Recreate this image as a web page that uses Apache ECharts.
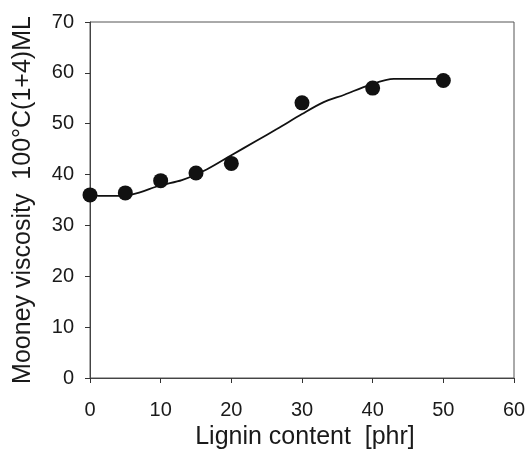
<!DOCTYPE html>
<html>
<head>
<meta charset="utf-8">
<script src="https://cdn.jsdelivr.net/npm/echarts@6/dist/echarts.min.js"></script>
<style>html,body{margin:0;padding:0;background:#fff;}#c{width:526px;height:449px;}</style>
</head>
<body>
<div id="c"></div>
<script>
var ligninPhr = [0, 5, 10, 15, 20, 30, 40, 50];
var mooneyViscosity = [36.0, 36.4, 38.8, 40.3, 42.2, 54.1, 57.0, 58.5];
var fitX = [0, 1.5, 3, 6, 10, 13, 16.5, 20, 23.5, 26.5, 30, 33, 36, 39.5, 43, 46, 49, 50];
var fitY = [36.1, 35.8, 35.8, 36.1, 37.9, 38.9, 41.0, 43.8, 46.6, 49.0, 51.9, 54.2, 55.7, 57.6, 58.8, 58.8, 58.8, 58.5];
var xTicks = [0, 10, 20, 30, 40, 50, 60];
var yTicks = [0, 10, 20, 30, 40, 50, 60, 70];

var pts = ligninPhr.map(function (x, i) { return [x, mooneyViscosity[i]]; });
var fit = fitX.map(function (x, i) { return [x, fitY[i]]; });
var font = '"Liberation Sans", Arial, sans-serif';
var chart = echarts.init(document.getElementById('c'), null, { renderer: 'canvas' });
chart.setOption({
  animation: false,
  backgroundColor: '#fff',
  grid: { left: 90, right: 12, top: 22, bottom: 71, containLabel: false, outerBoundsMode: 'none',
          show: true, borderColor: '#555', borderWidth: 1, backgroundColor: 'transparent' },
  xAxis: {
    type: 'value', min: xTicks[0], max: xTicks[xTicks.length - 1], interval: 10,
    name: 'Lignin content  [phr]', nameLocation: 'middle', nameGap: 46,
    nameTextStyle: { fontFamily: font, fontSize: 25, color: '#1a1a1a', padding: [0, 0, 0, 6] },
    axisLine: { show: true, lineStyle: { color: '#444', width: 1 } },
    axisTick: { show: true, inside: false, length: 5, lineStyle: { color: '#333' } },
    axisLabel: { margin: 22, fontFamily: font, fontSize: 20, color: '#1a1a1a' },
    splitLine: { show: false }
  },
  yAxis: {
    type: 'value', min: yTicks[0], max: yTicks[yTicks.length - 1], interval: 10,
    name: 'Mooney viscosity  100°C(1+4)ML', nameLocation: 'middle', nameGap: 54, nameRotate: 90,
    nameTextStyle: { fontFamily: font, fontSize: 25, color: '#1a1a1a' },
    axisLine: { show: true, lineStyle: { color: '#444', width: 1 } },
    axisTick: { show: true, inside: false, length: 5, lineStyle: { color: '#333' } },
    axisLabel: { margin: 16, fontFamily: font, fontSize: 20, color: '#1a1a1a' },
    splitLine: { show: false }
  },
  series: [
    {
      type: 'line', data: fit, smooth: 0.3, showSymbol: false, symbol: 'none',
      lineStyle: { color: '#111', width: 1.8 }, z: 2
    },
    {
      type: 'scatter', data: pts, symbol: 'circle', symbolSize: 15,
      itemStyle: { color: '#111', opacity: 1 }, z: 3
    }
  ]
});
</script>
</body>
</html>
